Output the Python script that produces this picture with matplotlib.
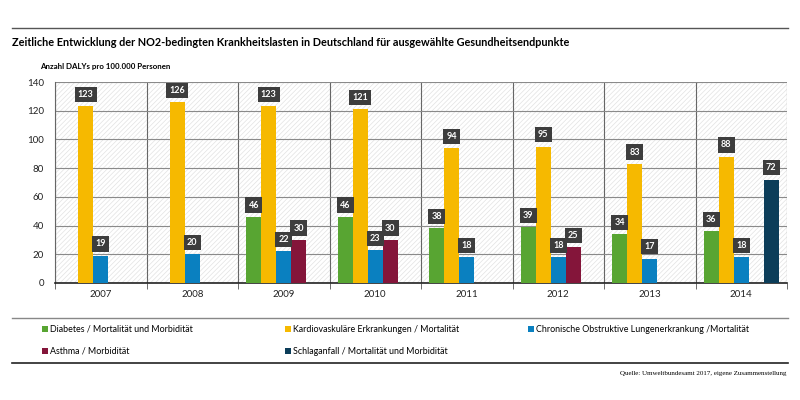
"""
NO2-bedingte Krankheitslasten in Deutschland, DALYs pro 100.000 Personen.
"""

import matplotlib
matplotlib.use("Agg")
import matplotlib.pyplot as plt
import numpy as np
from matplotlib.lines import Line2D
from matplotlib.patches import Rectangle

plt.rcParams["font.family"] = ["Lato", "DejaVu Sans"]
plt.rcParams["hatch.linewidth"] = 0.5

years = ["2007", "2008", "2009", "2010", "2011", "2012", "2013", "2014"]
series_names = [
    "Diabetes / Mortalität und Morbidität",
    "Kardiovaskuläre Erkrankungen / Mortalität",
    "Chronische Obstruktive Lungenerkrankung /Mortalität",
    "Asthma / Morbidität",
    "Schlaganfall / Mortalität und Morbidität",
]
diabetes = [None, None, 46, 46, 38, 39, 34, 36]
kardio = [123, 126, 123, 121, 94, 95, 83, 88]
copd = [19, 20, 22, 23, 18, 18, 17, 18]
asthma = [None, None, 30, 30, None, 25, None, None]
schlaganfall = [None, None, None, None, None, None, None, 72]
colors = ["#58a532", "#f6b900", "#0a80c0", "#84153a", "#0c3d59"]

fig = plt.figure(figsize=(8, 4), dpi=100)
ax = fig.add_axes([55 / 800, 1 - 283 / 400, 732 / 800, 201 / 400])

# hatched background
ax.add_patch(Rectangle((0, 0), 1, 1, transform=ax.transAxes, facecolor="white",
                       edgecolor="#e2e2e2", hatch="///////", linewidth=0, zorder=0))

x = np.arange(len(years))
bw = 15 / 91.5
for i, (vals, col) in enumerate(zip([diabetes, kardio, copd, asthma, schlaganfall], colors)):
    xs = x + (i - 2) * bw
    for xi, v in zip(xs, vals):
        if v is None:
            continue
        ax.bar(xi, v, width=bw, color=col, zorder=3, linewidth=0)
        ax.annotate(str(v), (xi, v), xytext=(0, 8.5), textcoords="offset points",
                    ha="center", va="center", fontsize=6.5, fontweight="bold",
                    color="white", zorder=5,
                    bbox=dict(boxstyle="square,pad=0.35", facecolor="#3d3d3d",
                              edgecolor="none"))

ax.set_xlim(-0.5, len(years) - 0.5)
ax.set_ylim(0, 140)
ax.set_yticks(range(0, 141, 20))
ax.set_xticks(x)
ax.set_xticklabels(years)
ax.set_xticks(np.arange(-0.5, len(years)), minor=True)
ax.tick_params(axis="both", labelsize=7, colors="#222222")
ax.tick_params(axis="y", length=0, pad=8)
ax.tick_params(axis="x", which="major", length=0, pad=5)
ax.tick_params(axis="x", which="minor", length=4, color="#555555")
ax.grid(True, axis="y", color="#8a8a8a", linewidth=0.8, zorder=1)
ax.grid(True, axis="x", which="minor", color="#666666", linewidth=0.8, zorder=1)
ax.set_axisbelow(True)
for s in ["top", "right"]:
    ax.spines[s].set_visible(False)
ax.spines["left"].set_color("#666666")
ax.spines["bottom"].set_color("#222222")
ax.spines["bottom"].set_linewidth(1.2)

# title and axis caption
fig.add_artist(Line2D([12 / 800, 788 / 800], [1 - 28 / 400] * 2, color="#555555", lw=1))
fig.text(12 / 800, 1 - 42 / 400, "Zeitliche Entwicklung der NO2-bedingten Krankheitslasten in "
         "Deutschland für ausgewählte Gesundheitsendpunkte",
         fontsize=7.8, fontweight="bold", va="center", ha="left")
fig.text(40 / 800, 1 - 66 / 400, "Anzahl DALYs pro 100.000 Personen",
         fontsize=5.7, fontweight="bold", va="center", ha="left")

# legend, laid out by hand in three columns
fig.add_artist(Line2D([12 / 800, 788 / 800], [1 - 318 / 400] * 2, color="#888888", lw=1))
col_x = [42, 285, 528]
row_y = [329, 351]
for i, (name, col) in enumerate(zip(series_names, colors)):
    px, py = col_x[i % 3], row_y[i // 3]
    fig.add_artist(Rectangle((px / 800, 1 - (py + 3) / 400), 6 / 800, 6 / 400,
                             facecolor=col, edgecolor="none"))
    fig.text((px + 8) / 800, 1 - py / 400, name, fontsize=6.4, va="center", ha="left")
fig.add_artist(Line2D([12 / 800, 788 / 800], [1 - 363 / 400] * 2, color="#222222", lw=1.2))
fig.text(786 / 800, 1 - 373 / 400, "Quelle: Umweltbundesamt 2017, eigene Zusammenstellung",
         fontsize=5, family=["Liberation Serif", "DejaVu Serif"], va="center", ha="right")

fig.savefig("out.png", dpi=100)
